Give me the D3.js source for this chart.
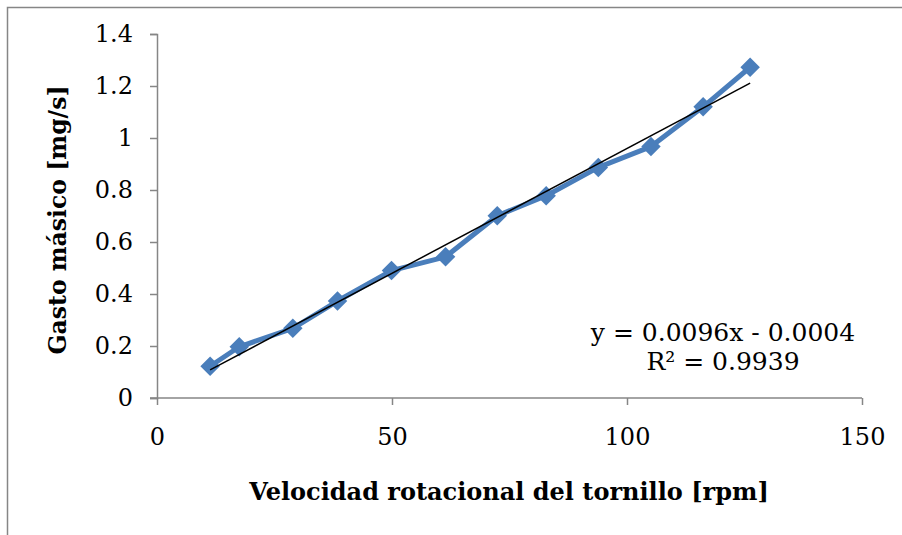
<!DOCTYPE html>
<html><head><meta charset="utf-8">
<script src="https://cdn.jsdelivr.net/npm/d3@7"></script>
<style>
html,body{margin:0;padding:0;background:#fff;}
svg text{font-family:"DejaVu Serif",serif;fill:#000;}
</style></head>
<body>
<script>
const speed = [11.3, 17.5, 28.9, 38.4, 49.9, 61.4, 72.4, 82.8, 93.9, 105.1, 116.2, 126.2];
const flow  = [0.122, 0.197, 0.268, 0.373, 0.490, 0.543, 0.701, 0.778, 0.887, 0.967, 1.120, 1.272];
const xTicks = [0, 50, 100, 150];
const yTicks = [0, 0.2, 0.4, 0.6, 0.8, 1, 1.2, 1.4];
const trendSlope = 0.0096, trendIntercept = -0.0004;
const eqLines = ["y = 0.0096x - 0.0004", "R\u00B2 = 0.9939"];
const xTitle = "Velocidad rotacional del tornillo [rpm]";
const yTitle = "Gasto m\u00E1sico [mg/s]";

const W = 902, H = 535;
const svg = d3.select("body").append("svg").attr("width", W).attr("height", H);

svg.append("rect").attr("x", 7.5).attr("y", 7.5).attr("width", W + 10).attr("height", H + 10)
  .attr("fill", "none").attr("stroke", "#868686").attr("stroke-width", 1.5);

const x = d3.scaleLinear().domain([0, 150]).range([157, 862]);
const y = d3.scaleLinear().domain([0, 1.4]).range([398, 34]);

const axisColor = "#868686";
const gx = svg.append("g").attr("transform", "translate(0,398)")
  .call(d3.axisBottom(x).tickValues(xTicks).tickFormat(d3.format("d")).tickSizeOuter(0).tickSize(7).tickPadding(23));
const gy = svg.append("g").attr("transform", "translate(157,0)")
  .call(d3.axisLeft(y).tickValues(yTicks).tickFormat(d => d === 0 || d === 1 ? d3.format("d")(d) : d3.format(".1f")(d)).tickSizeOuter(0).tickSize(7).tickPadding(17));
[gx, gy].forEach(g => {
  g.select(".domain").attr("stroke", axisColor).attr("stroke-width", 1.5);
  g.selectAll(".tick line").attr("stroke", axisColor).attr("stroke-width", 1.5);
  g.selectAll(".tick text").attr("font-family", "DejaVu Serif").attr("font-size", 24).attr("fill", "#000");
});
gx.select(".domain").attr("d", `M${157 - 7},0H862`);

const data = speed.map((s, i) => ({ s, f: flow[i] }));
const line = d3.line().x(d => x(d.s)).y(d => y(d.f));
svg.append("path").datum(data).attr("d", line).attr("fill", "none")
  .attr("stroke", "#4a7ebb").attr("stroke-width", 5).attr("stroke-linejoin", "round");

svg.append("g").selectAll("path").data(data).join("path")
  .attr("transform", d => `translate(${x(d.s)},${y(d.f)}) rotate(45)`)
  .attr("d", d3.symbol().type(d3.symbolSquare).size(190))
  .attr("fill", "#4a7ebb");

const xs = [speed[0], speed[speed.length - 1]];
svg.append("line")
  .attr("x1", x(xs[0])).attr("y1", y(trendSlope * xs[0] + trendIntercept))
  .attr("x2", x(xs[1])).attr("y2", y(trendSlope * xs[1] + trendIntercept))
  .attr("stroke", "#000").attr("stroke-width", 1.5);

const eq = svg.append("text").attr("text-anchor", "middle").attr("font-size", 25);
eq.append("tspan").attr("x", 723).attr("y", 341).text(eqLines[0]);
eq.append("tspan").attr("x", 723).attr("y", 370).text(eqLines[1]);

svg.append("text").attr("x", 509).attr("y", 500).attr("text-anchor", "middle")
  .attr("font-size", 24).attr("font-weight", "bold").text(xTitle);
svg.append("text").attr("transform", "translate(66,220) rotate(-90)").attr("text-anchor", "middle")
  .attr("font-size", 23.5).attr("font-weight", "bold").text(yTitle);
</script>
</body></html>
